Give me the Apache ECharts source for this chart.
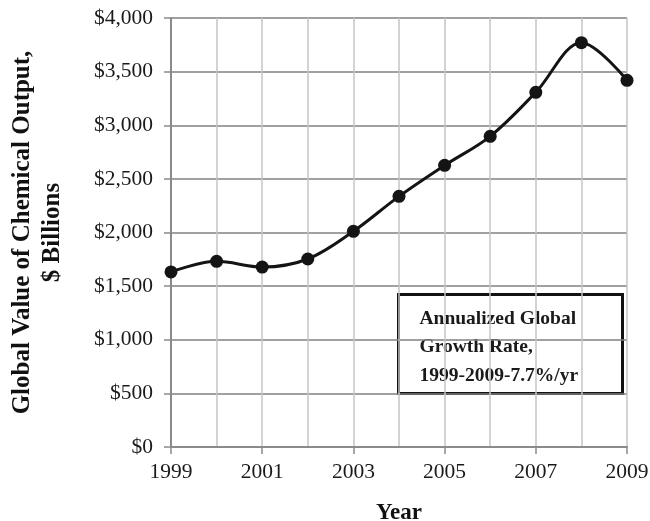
<!DOCTYPE html>
<html>
<head>
<meta charset="utf-8">
<script src="https://cdn.jsdelivr.net/npm/echarts@6/dist/echarts.min.js"></script>
<style>
  html, body { margin: 0; padding: 0; background: #fff; }
  #chart { width: 650px; height: 521px; }
</style>
</head>
<body>
<div id="chart"></div>
<script>
// Global chemical output, $ billions, 1999-2009
const years = ['1999', '2000', '2001', '2002', '2003', '2004', '2005', '2006', '2007', '2008', '2009'];
const outputValues = [1632, 1731, 1678, 1753, 2011, 2337, 2626, 2897, 3307, 3770, 3419];
const yTicks = { min: 0, max: 4000, step: 500 };
const noteLines = ['Annualized Global', 'Growth Rate,', '1999-2009-7.7%/yr'];

const serif = '"Liberation Serif", "Times New Roman", serif';

const chart = echarts.init(document.getElementById('chart'), null, { renderer: 'canvas' });

function money(v) {
  return '$' + v.toLocaleString('en-US');
}

chart.setOption({
  animation: false,
  backgroundColor: '#fff',
  grid: {
    left: 171, right: 23, top: 18, bottom: 74,
    containLabel: false,
    outerBoundsMode: 'none'
  },
  xAxis: {
    type: 'category',
    data: years,
    boundaryGap: false,
    name: 'Year',
    nameLocation: 'middle',
    nameGap: 55,
    nameTextStyle: { fontFamily: serif, fontWeight: 'bold', fontSize: 23, color: '#111' },
    axisLine: { show: true, lineStyle: { color: '#8a8a8a', width: 2 } },
    axisTick: { show: true, interval: 1, length: 7, inside: false, lineStyle: { color: '#8a8a8a', width: 1.5 } },
    axisLabel: { interval: 1, margin: 14, fontFamily: serif, fontSize: 21.5, color: '#1a1a1a' },
    splitLine: { show: true, interval: 0, lineStyle: { color: '#c4c4c4', width: 1.5 } }
  },
  yAxis: {
    type: 'value',
    min: yTicks.min,
    max: yTicks.max,
    interval: yTicks.step,
    name: 'Global Value of Chemical Output,\n$ Billions',
    nameLocation: 'middle',
    nameRotate: 90,
    nameGap: 103,
    nameTextStyle: { fontFamily: serif, fontWeight: 'bold', fontSize: 25, color: '#111', lineHeight: 30 },
    axisLine: { show: true, lineStyle: { color: '#8a8a8a', width: 2 } },
    axisTick: { show: true, length: 7, inside: false, lineStyle: { color: '#8a8a8a', width: 1.5 } },
    axisLabel: { margin: 18, fontFamily: serif, fontSize: 21.5, color: '#1a1a1a', formatter: money },
    splitLine: { show: true, lineStyle: { color: '#808080', width: 1.5 } }
  },
  series: [{
    type: 'line',
    data: outputValues,
    smooth: 0.35,
    symbol: 'circle',
    symbolSize: 13,
    showSymbol: true,
    lineStyle: { color: '#141414', width: 3 },
    itemStyle: { color: '#141414' },
    z: 5
  }],
  graphic: [{
    type: 'group',
    left: 397,
    top: 293,
    z: 10,
    children: [
      {
        type: 'rect',
        shape: { x: 0, y: 0, width: 224, height: 99 },
        style: { fill: '#fff', stroke: '#111', lineWidth: 3 }
      },
      {
        type: 'text',
        x: 21,
        y: 10,
        style: {
          text: noteLines.join('\n'),
          font: 'bold 19.5px ' + serif,
          fill: '#1a1a1a',
          lineHeight: 28.5,
          textAlign: 'left',
          textVerticalAlign: 'top'
        }
      }
    ]
  }]
});
</script>
</body>
</html>
